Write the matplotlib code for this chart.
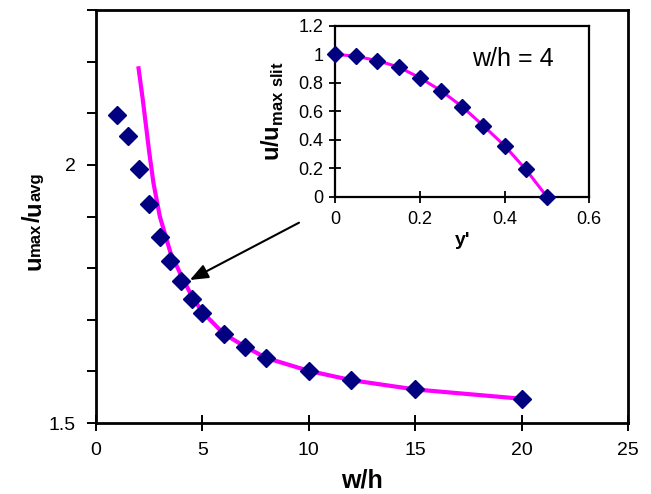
import matplotlib
matplotlib.use("Agg")
import matplotlib.pyplot as plt
from matplotlib.ticker import MultipleLocator

plt.rcParams['font.family'] = 'Liberation Sans'
plt.rcParams['mathtext.fontset'] = 'custom'
plt.rcParams['mathtext.rm'] = 'Liberation Sans'
plt.rcParams['mathtext.bf'] = 'Liberation Sans:bold'

# main chart: u_max/u_avg against w/h
wh = [1, 1.5, 2, 2.5, 3, 3.5, 4, 4.5, 5, 6, 7, 8, 10, 12, 15, 20]
umax_avg = [2.097, 2.056, 1.992, 1.924, 1.861, 1.814, 1.775, 1.741, 1.713,
            1.672, 1.648, 1.625, 1.601, 1.583, 1.565, 1.547]

# magenta curve
wh_line = [2, 2.2, 2.5, 2.7, 3, 3.5, 4, 4.5, 5, 6, 7, 8, 10, 12, 15, 20]
umax_line = [2.187, 2.126, 2.025, 1.965, 1.900, 1.830, 1.786, 1.746, 1.715,
             1.673, 1.648, 1.626, 1.601, 1.583, 1.565, 1.547]

# inset: velocity profile for w/h = 4
yprime = [0, 0.05, 0.1, 0.15, 0.2, 0.25, 0.3, 0.35, 0.4, 0.45, 0.5]
u_slit = [1.0, 0.985, 0.955, 0.91, 0.835, 0.744, 0.632, 0.498, 0.358, 0.192, 0.0]

main_xticks = [0, 5, 10, 15, 20, 25]
main_yticks = [1.5, 2.0]
main_ylabels = ['1.5', '2']
ins_xticks = [0, 0.2, 0.4, 0.6]
ins_xlabels = ['0', '0.2', '0.4', '0.6']
ins_yticks = [0, 0.2, 0.4, 0.6, 0.8, 1.0, 1.2]
ins_ylabels = ['0', '0.2', '0.4', '0.6', '0.8', '1', '1.2']

W, H = 651, 494
fig = plt.figure(figsize=(W / 100, H / 100), dpi=100)

ax = fig.add_axes([96 / W, 1 - 423 / H, (628 - 96) / W, (423 - 10) / H])
ax.plot(wh_line, umax_line, color='#ff00ff', lw=3, zorder=2)
ax.plot(wh, umax_avg, 'D', color='#000080', ms=9, zorder=3)
ax.set_xlim(0, 25)
ax.set_ylim(1.5, 2.3)
ax.set_xticks(main_xticks)
ax.set_yticks(main_yticks)
ax.set_yticklabels(main_ylabels)
ax.yaxis.set_minor_locator(MultipleLocator(0.1))
ax.tick_params(axis='x', direction='inout', length=11, width=1.4, labelsize=14, pad=8)
ax.tick_params(axis='y', which='both', direction='out', length=6.5, width=1.4,
               labelsize=14, pad=8)
for s in ax.spines.values():
    s.set_linewidth(2)
ax.set_xlabel('w/h', fontsize=18, fontweight='bold', labelpad=7)

# y label with "max" / "avg" in smaller type on the same baseline
pieces = [('u', 17), ('max', 12), ('/', 17), ('u', 17), ('avg', 12)]
base_x = 40 / W
t = ax.text(base_x, 1 - 270 / H, pieces[0][0], transform=fig.transFigure,
            rotation=90, rotation_mode='anchor', fontsize=pieces[0][1],
            fontweight='bold', ha='left', va='baseline')
for txt, size in pieces[1:]:
    t = ax.annotate(txt, xy=(base_x, 1), xycoords=(fig.transFigure, t),
                    rotation=90, rotation_mode='anchor', fontsize=size,
                    fontweight='bold', ha='left', va='baseline',
                    annotation_clip=False)

ax.annotate('', xy=(4.41, 1.777), xytext=(9.54, 1.888),
            arrowprops=dict(arrowstyle='-|>,head_length=0.55,head_width=0.22',
                            mutation_scale=20, lw=1.5, color='black',
                            shrinkA=0, shrinkB=0))

# inset
ins = fig.add_axes([335 / W, 1 - 196.7 / H, (589.3 - 335) / W, (196.7 - 25.7) / H])
ins.plot(yprime, u_slit, color='#ff00ff', lw=2.2, zorder=2, clip_on=False)
ins.plot(yprime, u_slit, 'D', color='#000080', ms=8, zorder=3, clip_on=False)
ins.set_xlim(0, 0.6)
ins.set_ylim(0, 1.2)
ins.set_xticks(ins_xticks)
ins.set_xticklabels(ins_xlabels)
ins.set_yticks(ins_yticks)
ins.set_yticklabels(ins_ylabels)
ins.tick_params(direction='inout', length=9, width=1.3, labelsize=13)
ins.tick_params(axis='x', pad=6)
ins.tick_params(axis='y', pad=4)
for s in ins.spines.values():
    s.set_linewidth(1.6)
ins.set_xlabel("y'", fontsize=14, fontweight='bold', labelpad=3)
ins.set_ylabel(r"u/u$_{\mathbf{max\ slit}}$", fontsize=17, fontweight='bold', labelpad=9)
ins.text(0.42, 0.966, 'w/h = 4', fontsize=18, ha='center', va='center')

fig.savefig('out.png', dpi=100)
